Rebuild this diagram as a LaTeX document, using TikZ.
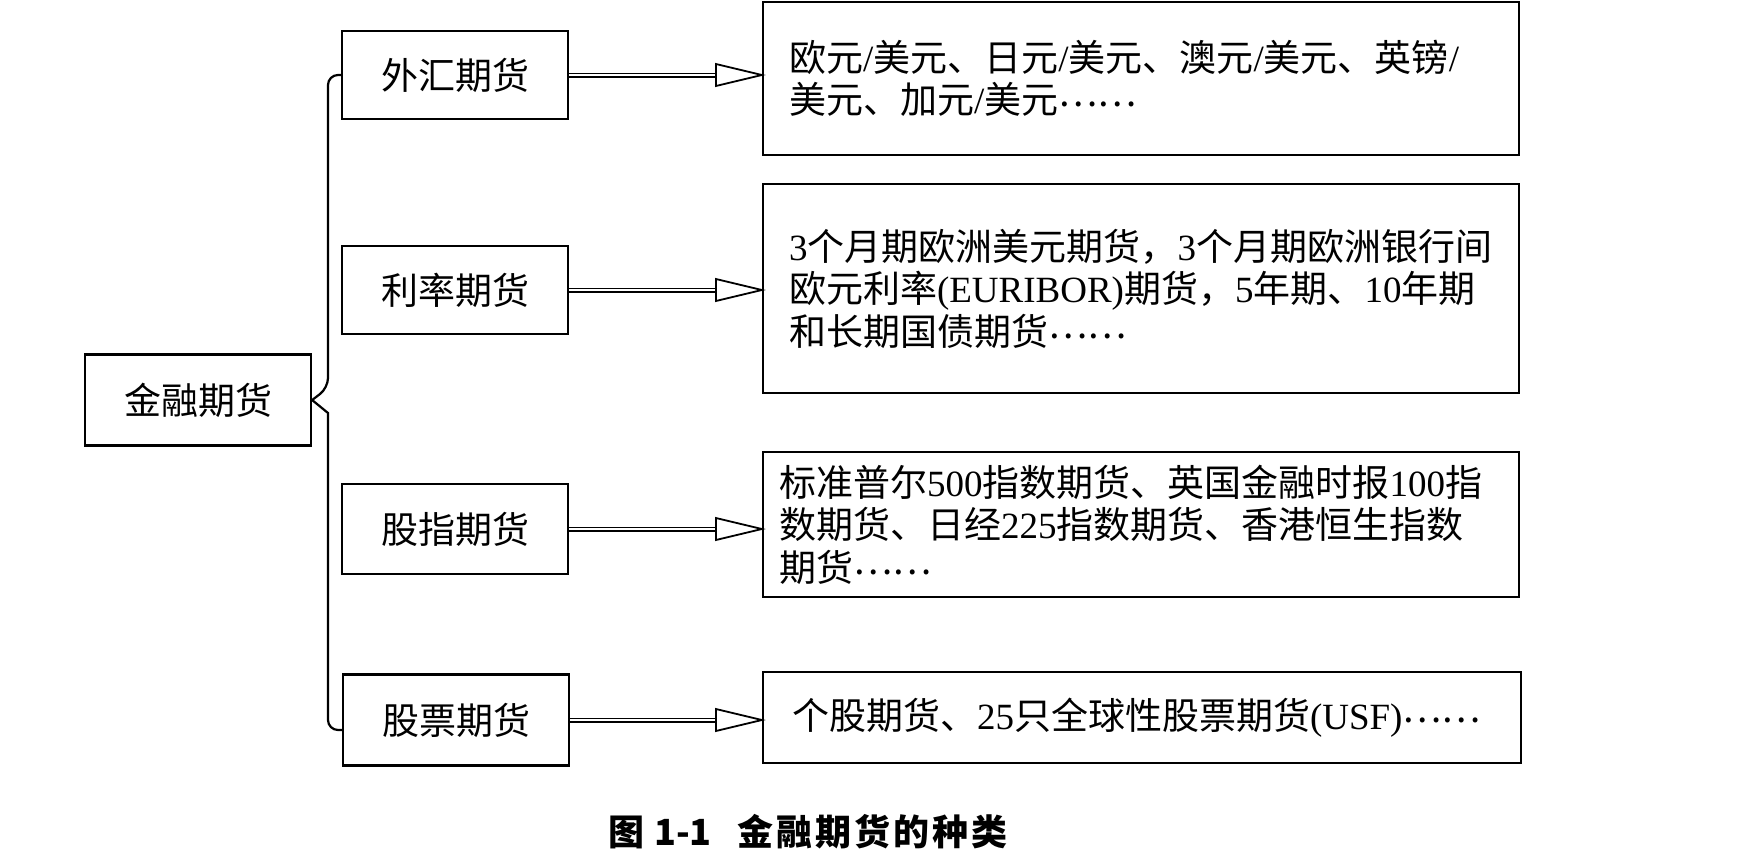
\documentclass[tikz,border=0pt]{standalone}
\usepackage{fontspec}
\setmainfont{Noto Sans CJK SC}
\newfontfamily\tnr{Liberation Serif}
\usetikzlibrary{calc}
\newcommand\mydots{\raisebox{7pt}{……}}
\begin{document}
\begin{tikzpicture}[x=1pt,y=-1pt,
  box/.style={draw,line width=2.2pt,inner sep=0pt,minimum width=226pt,font=\fontsize{37}{42}\selectfont},
  rbox/.style={draw,line width=2.2pt,inner ysep=0pt,align=left,font=\fontsize{37}{42.5}\selectfont},
  shaft/.style={line width=1.5pt,double distance=2pt},
  head/.style={draw,line width=1.8pt,fill=white,line join=miter},
  brace/.style={draw,line width=2.2pt},
  capt/.style={inner sep=0pt,anchor=west,font=\fontsize{36}{40}\selectfont\bfseries}]
\fill[white] (0,0) rectangle (1762,849);
\useasboundingbox (0,0) rectangle (1762,849);

\node[box,minimum height=91pt] (jr) at (198,400) {金融期货};
\node[box,minimum height=88pt] (wh) at (455,75) {外汇期货};
\node[box,minimum height=88pt] (ll) at (455,290) {利率期货};
\node[box,minimum height=90pt] (gz) at (455,529) {股指期货};
\node[box,minimum height=91pt] (gp) at (456,720) {股票期货};

\node[rbox,inner xsep=26pt,text width=704pt,minimum height=153pt] (r1) at (1141,78.5)
  {欧元{\tnr /}美元、日元{\tnr /}美元、澳元{\tnr /}美元、英镑{\tnr /}\\美元、加元{\tnr /}美元\mydots};
\node[rbox,inner xsep=26pt,text width=704pt,minimum height=209pt] (r2) at (1141,288.5)
  {{\tnr 3}个月期欧洲美元期货，{\tnr 3}个月期欧洲银行间\\欧元利率{\tnr (EURIBOR)}期货，{\tnr 5}年期、{\tnr 10}年期\\和长期国债期货\mydots};
\node[rbox,inner xsep=16pt,text width=724pt,minimum height=145pt] (r3) at (1141,524.5)
  {标准普尔{\tnr 500}指数期货、英国金融时报{\tnr 100}指\\数期货、日经{\tnr 225}指数期货、香港恒生指数\\期货\mydots};
\node[rbox,inner xsep=29pt,text width=700pt,minimum height=91pt] (r4) at (1142,717.5)
  {个股期货、{\tnr 25}只全球性股票期货{\tnr (USF)}\mydots};

\foreach \a/\b in {wh/r1,ll/r2,gz/r3,gp/r4}{
  \coordinate (t) at (\a.east -| \b.west);
  \draw[shaft] (\a.east) -- ($(t)+(-46,0)$);
  \draw[head] ($(t)+(-46,-11)$) -- (t) -- ($(t)+(-46,11)$) -- cycle;
}

\coordinate (b1) at (328,75);
\coordinate (b2) at (328,388);
\coordinate (b3) at (328,413);
\coordinate (b4) at (328,730);
\coordinate (b5) at ($(gp.west)+(0,10)$);
\draw[brace] (wh.west) [rounded corners=10pt] -- (b1) -- (b2) [sharp corners] -- (jr.east) -- (b3) [rounded corners=10pt] -- (b4) -- (b5);

\node[capt] (cap) at (608,832) {图\hspace{10pt}1-1\hspace{26pt}金\hspace{3pt}融\hspace{3pt}期\hspace{3pt}货\hspace{3pt}的\hspace{3pt}种\hspace{3pt}类};
\end{tikzpicture}
\end{document}
